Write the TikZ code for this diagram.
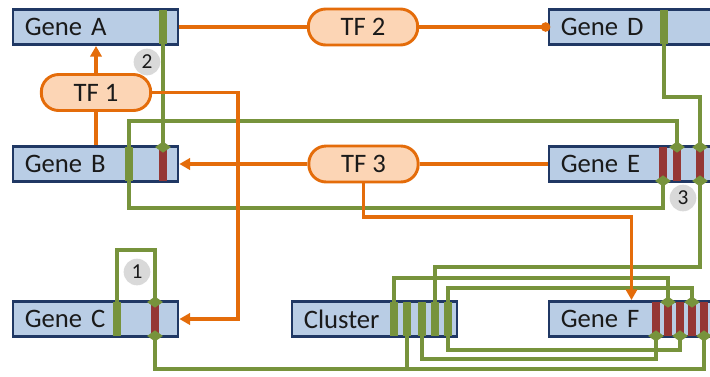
\documentclass[tikz,border=0pt]{standalone}
\usepackage{fontspec}
\setmainfont{Carlito}
\usetikzlibrary{arrows.meta,shapes.geometric}

\definecolor{boxfill}{HTML}{B9CDE5}
\definecolor{boxline}{HTML}{203864}
\definecolor{leaf}{HTML}{77933C}
\definecolor{brick}{HTML}{953735}
\definecolor{tforange}{HTML}{E46C0A}
\definecolor{peach}{HTML}{FCD5B5}
\definecolor{badgegray}{HTML}{D9D9D9}
\definecolor{ink}{HTML}{1A1A1A}

\begin{document}
\begin{tikzpicture}[x=0.75pt,y=-0.75pt,
  gene/.style={draw=boxline, fill=boxfill, line width=2pt,
    minimum width=123.75pt, minimum height=26.5pt, text width=106pt,
    align=left, inner xsep=8.9pt, inner ysep=0pt, text=ink,
    font=\fontsize{20}{22}\selectfont},
  gbar/.style={fill=leaf, minimum width=6.5pt, minimum height=25pt, inner sep=0pt},
  rbar/.style={fill=brick, minimum width=6.5pt, minimum height=25pt, inner sep=0pt},
  tf/.style={draw=tforange, fill=peach, line width=2.2pt, rounded corners=13pt,
    minimum width=82pt, minimum height=27pt, inner sep=0pt, text=ink,
    font=\fontsize{20}{22}\selectfont},
  badge/.style={circle, fill=badgegray, minimum size=20pt, inner sep=0pt,
    text=ink, font=\fontsize{16}{18}\selectfont},
  dmd/.style={diamond, fill=leaf, inner sep=0pt, minimum width=12pt, minimum height=8.5pt},
  gl/.style={draw=leaf, line width=2.6pt},
  ol/.style={draw=tforange, line width=2.6pt},
  tip/.style={-{Triangle[length=8pt,width=8.5pt]}},
  dot/.style={-{Circle[length=7pt]}, shorten >=-2pt},
]
\useasboundingbox (0,0) rectangle (710,376);
\clip (0,0) rectangle (710,376);

% routing levels and the vertical run of TF 1
\coordinate (hA) at (0,121);
\coordinate (hB) at (0,208);
\coordinate (hC) at (0,97);
\coordinate (hD) at (0,267);
\coordinate (hE) at (0,278);
\coordinate (hF) at (0,288);
\coordinate (hG) at (0,350);
\coordinate (hH) at (0,359);
\coordinate (hI) at (0,369);
\coordinate (hJ) at (0,250);
\coordinate (hK) at (0,217);
\coordinate (vC) at (238,0);

% genes
\node[gene] (gA) at (95.5,27) {Gene A};
\node[gene] (gB) at (95.5,164) {Gene B};
\node[gene] (gC) at (95.5,319) {Gene C};
\node[gene] (gD) at (631.5,27) {Gene D};
\node[gene] (gE) at (631.5,164) {Gene E};
\node[gene] (gF) at (631.5,319) {Gene F};
\node[gene] (cl) at (374.5,319) {Cluster};

% sites inside the genes
\node[gbar] (a1) at (163,27) {};
\node[gbar] (b1) at (129,164) {};
\node[rbar] (b2) at (163,164) {};
\node[gbar] (c1) at (117,319) {};
\node[rbar] (c2) at (155,319) {};
\node[gbar] (d1) at (664,27) {};
\node[rbar] (e1) at (663,164) {};
\node[rbar] (e2) at (677,164) {};
\node[rbar] (e3) at (700,164) {};
\node[rbar] (f1) at (656,319) {};
\node[rbar] (f2) at (668,319) {};
\node[rbar] (f3) at (680,319) {};
\node[rbar] (f4) at (692,319) {};
\node[rbar] (f5) at (704,319) {};
\node[gbar] (k1) at (394,319) {};
\node[gbar] (k2) at (407,319) {};
\node[gbar] (k3) at (422,319) {};
\node[gbar] (k4) at (435,319) {};
\node[gbar] (k5) at (448,319) {};

% green links
\draw[gl] (a1.south) -- (b2.north);
\draw[gl] (b1.north) -- (b1.north |- hA) -- (e2.north |- hA) -- (e2.north);
\draw[gl] (b1.south) -- (b1.south |- hB) -- (e1.south |- hB) -- (e1.south);
\draw[gl] (d1.south) -- (d1.south |- hC) -- (e3.north |- hC) -- (e3.north);
\draw[gl] (e3.south) -- (e3.south |- hD) -- (k4.north |- hD) -- (k4.north);
\draw[gl] (k1.north) -- (k1.north |- hE) -- (f2.north |- hE) -- (f2.north);
\draw[gl] (k5.north) -- (k5.north |- hF) -- (f4.north |- hF) -- (f4.north);
\draw[gl] (k5.south) -- (k5.south |- hG) -- (f3.south |- hG) -- (f3.south);
\draw[gl] (k3.south) -- (k3.south |- hH) -- (f1.south |- hH) -- (f1.south);
\draw[gl] (c2.south) -- (c2.south |- hI) -- (f5.south |- hI) -- (f5.south);
\draw[gl] (k2.south) -- (k2.south |- hI);
\draw[gl] (c1.north) -- (c1.north |- hJ) -- (c2.north |- hJ) -- (c2.north);

% attachment marks on the target sites
\foreach \p in {b2.north, c2.north, c2.south, e1.south, e2.north, e3.north,
  e3.south, f1.south, f2.north, f3.south, f4.north, f5.south}
  \node[dmd] at (\p) {};

% transcription factors
\node[tf] (t1) at (96,92.5) {TF 1};
\node[tf] (t2) at (363,27) {TF 2};
\node[tf] (t3) at (363.5,164) {TF 3};

% orange regulation
\draw[ol,tip] (t1.north) -- (t1.north |- gA.south);
\draw[ol] (t1.south) -- (t1.south |- gB.north);
\draw[ol,tip] (t1.east) -- (t1.east -| vC) -- (vC |- gC.east) -- (gC.east);
\draw[ol] (t2.west) -- (gA.east);
\draw[ol,dot] (t2.east) -- (gD.west);
\draw[ol,tip] (t3.west) -- (gB.east);
\draw[ol] (t3.east) -- (gE.west);
\draw[ol,tip] (t3.south) -- (t3.south |- hK) -- (gF.north |- hK) -- (gF.north);

% numbered marks
\node[badge] (n1) at (137,272) {1};
\node[badge] (n2) at (147,62) {2};
\node[badge] (n3) at (683,198) {3};
\end{tikzpicture}
\end{document}
